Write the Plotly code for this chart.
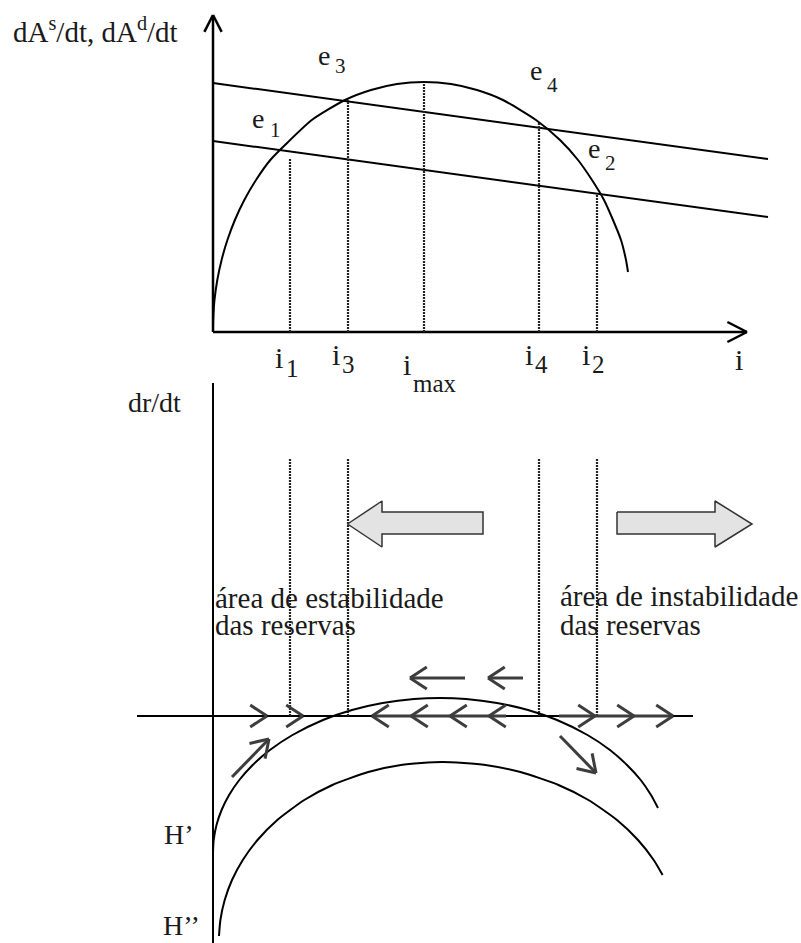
import math
import plotly.graph_objects as go

# ---------------- data (arbitrary units, i-axis origin = 0) ----------------
# Upper panel: supply hump dA^s/dt and the two demand lines dA^d/dt
supply_i = [0.0, 0.02, 0.15, 0.43, 0.86, 1.44, 2.19, 3.13, 4.3, 5.73, 7.2, 9.88, 13.2, 15.8, 18.4,
            21.1, 23.8, 26.4, 29.0, 32.3, 34.7, 36.5, 37.9, 39.1, 40.0, 40.8, 41.3, 41.5]
supply_val = [0.1, 1.2, 3.2, 5.2, 7.2, 9.2, 11.2, 13.2, 15.2, 17.2, 18.7, 21.2, 23.2, 24.2, 24.8,
              25.0, 24.8, 24.2, 23.2, 21.2, 19.2, 17.2, 15.2, 13.2, 11.2, 9.2, 7.2, 6.0]
demand_i = [0.0, 55.5]
demand_high = [24.9, 17.3]
demand_low = [19.1, 11.5]
eq_names = ["1", "3", "4", "2"]
tick_names = ["1", "3", "max", "4", "2"]
tick_i = [7.7, 13.5, 21.1, 32.6, 38.4]
tick_top = [17.4, 23.2, 24.9, 21.0, 13.7]

# Lower panel: dr/dt curves H' and H''
hp_i = [0.0, 0.07, 0.35, 0.86, 1.61, 2.63, 3.97, 5.69, 7.95, 11.0, 13.9, 16.96, 20.1, 22.7,
        25.3, 28.4, 31.5, 34.4, 37.45, 39.7, 41.4, 42.77, 43.8, 44.5]
hp_r = [-13.6, -12.4, -10.9, -9.4, -7.9, -6.4, -4.9, -3.4, -1.9, -0.4, 0.6, 1.3, 1.7, 1.8,
        1.7, 1.3, 0.6, -0.4, -1.9, -3.4, -4.9, -6.4, -7.9, -9.2]
hpp_i = [0.6, 0.74, 1.17, 1.9, 2.98, 4.45, 6.43, 9.13, 11.94, 15.53, 18.8, 22.9,
         27.25, 30.74, 34.55, 37.54, 40.4, 42.5, 44.07, 44.96]
hpp_r = [-22.0, -20.4, -18.4, -16.4, -14.4, -12.4, -10.4, -8.4, -6.9, -5.6, -4.9, -4.6,
         -4.9, -5.6, -6.9, -8.4, -10.4, -12.4, -14.4, -15.9]
lower_guide_i = [7.7, 13.5, 32.6, 38.4]
lower_guide_top = 25.8

# direction-of-motion arrows on the dr/dt = 0 line
right_tips = [5.4, 9.0, 38.2, 42.1, 46.0]
left_tips = [15.9, 19.8, 23.7, 27.6]
left_shaft = [15.9, 29.3]
right_shaft = [34.6, 46.0]
upper_arrows = [(19.7, 25.2), (27.5, 31.0)]   # (tip, tail) at dr/dt = 3.8
upper_arrow_level = 3.8
diag_arrows = [((1.9, -6.1), (5.6, -2.3)), ((34.7, -2.0), (38.3, -5.7))]  # (tail, tip)

# block arrows (stability / instability)
block_left_x = [13.45, 16.9, 16.9, 27.0, 27.0, 16.9, 16.9, 13.45]
block_left_y = [19.2, 21.5, 20.4, 20.4, 18.2, 18.2, 16.9, 19.2]
block_right_x = [40.4, 50.2, 50.2, 53.9, 50.2, 50.2, 40.4, 40.4]
block_right_y = [20.4, 20.4, 21.5, 19.2, 16.9, 18.2, 18.2, 20.4]

# axes extents
top_axis_x_end = 53.4
top_axis_y_end = 31.7
bot_axis_x = [-7.6, 48.0]
bot_axis_y = [33.3, -22.7]

# ---------------- styling ----------------
W, H = 801, 943
FONT = "Liberation Serif, Times New Roman, serif"
TXT = "#1a1a1a"
INK = "#000000"
GRAY = "#3d3d3d"
DOT = "#222222"

fig = go.Figure()


def line(x, y, yaxis="y", color=INK, width=2, dash=None, shape="linear"):
    fig.add_trace(go.Scatter(x=x, y=y, yaxis=yaxis, mode="lines",
                             line=dict(color=color, width=width, dash=dash, shape=shape,
                                       smoothing=0.6 if shape == "spline" else None),
                             hoverinfo="skip", showlegend=False))


def chevron(tx, ty, ang, length=2.0, half=math.radians(33)):
    xs, ys = [], []
    for s in (1, -1):
        a = ang + math.pi + s * half
        xs += [tx + length * math.cos(a), tx, None]
        ys += [ty + length * math.sin(a), ty, None]
    return xs, ys


# ---- upper panel ----
line([0, 0], [0, top_axis_y_end], width=2.5)
line([0, top_axis_x_end], [0, 0], width=2.5)
cx, cy = chevron(0, top_axis_y_end, math.pi / 2, 1.9, math.radians(27))
line(cx, cy, width=2.5)
cx, cy = chevron(top_axis_x_end, 0, 0, 2.2, math.radians(27))
line(cx, cy, width=2.5)

line(demand_i, demand_high, width=2)
line(demand_i, demand_low, width=2)
line(supply_i, supply_val, width=2, shape="spline")

for xi, top in zip(tick_i, tick_top):
    line([xi, xi], [0, top], color=DOT, width=2.2, dash="2px,1px")

# ---- lower panel ----
line([0, 0], bot_axis_y, yaxis="y2", width=2)
line(bot_axis_x, [0, 0], yaxis="y2", width=2)
for xi in lower_guide_i:
    line([xi, xi], [0, lower_guide_top], yaxis="y2", color=DOT, width=2.2, dash="2px,1px")

line(hp_i, hp_r, yaxis="y2", width=2, shape="spline")
line(hpp_i, hpp_r, yaxis="y2", width=2, shape="spline")

# shafts + chevrons
line(left_shaft, [0, 0], yaxis="y2", color=GRAY, width=3)
line(right_shaft, [0, 0], yaxis="y2", color=GRAY, width=3)
ax, ay = [], []
for t in right_tips:
    a, b = chevron(t, 0, 0)
    ax += a; ay += b
for t in left_tips:
    a, b = chevron(t, 0, math.pi)
    ax += a; ay += b
for tip, tail in upper_arrows:
    a, b = chevron(tip, upper_arrow_level, math.pi)
    ax += a + [tip, tail, None]; ay += b + [upper_arrow_level, upper_arrow_level, None]
for (x0, y0), (x1, y1) in diag_arrows:
    ang = math.atan2(y1 - y0, x1 - x0)
    a, b = chevron(x1, y1, ang)
    ax += a + [x0, x1, None]; ay += b + [y0, y1, None]
line(ax, ay, yaxis="y2", color=GRAY, width=3)

for bx, by in ((block_left_x, block_left_y), (block_right_x, block_right_y)):
    fig.add_trace(go.Scatter(x=bx, y=by, yaxis="y2", mode="lines", fill="toself",
                             fillcolor="#e3e3e3", line=dict(color="#333333", width=1.5),
                             hoverinfo="skip", showlegend=False))

# ---------------- text ----------------
anns = []


def ann(text, left, baseline, size):
    anns.append(dict(text=text, x=left / W, y=1 - (baseline + 0.216 * size) / H,
                     xref="paper", yref="paper", xanchor="left", yanchor="bottom",
                     showarrow=False, borderpad=0, borderwidth=0,
                     font=dict(size=size, family=FONT, color=TXT)))


ann("dA<sup>s</sup>/dt, dA<sup>d</sup>/dt", 13, 42, 29)

# equilibrium labels e1, e3, e4, e2
eq_pos = [(252, 128, 270, 137), (318, 65, 335, 73), (530, 80, 547, 92), (588, 158, 605, 170)]
for name, (ex, eb, sx, sb) in zip(eq_names, eq_pos):
    ann("e", ex, eb, 28)
    ann(name, sx, sb, 21)

# i labels under the axis
tick_pos = [(275, 368, 286, 377), (332, 365, 342, 373), (403, 375, 413, 392),
            (525, 365, 535, 373), (582, 365, 592, 373)]
for name, (ix, ib, sx, sb) in zip(tick_names, tick_pos):
    ann("i", ix, ib, 30)
    ann(name, sx, sb, 25)
ann("i", 735, 370, 30)

ann("dr/dt", 128, 412, 28)
ann("área de estabilidade", 215, 608, 29)
ann("das reservas", 215, 635, 29)
ann("área de instabilidade", 560, 606, 29)
ann("das reservas", 560, 635, 29)
ann("H’", 164, 844, 28)
ann("H’’", 163, 935, 28)

split = 1 - 372 / H
fig.update_layout(
    width=W, height=H, margin=dict(l=0, r=0, t=0, b=0),
    paper_bgcolor="white", plot_bgcolor="white",
    font=dict(family=FONT, color=TXT),
    xaxis=dict(range=[-21.3, 58.8], domain=[0, 1], visible=False, fixedrange=True),
    yaxis=dict(range=[-4.0, 33.2], domain=[split, 1], visible=False, fixedrange=True),
    yaxis2=dict(range=[-22.7, 34.4], domain=[0, split], visible=False, fixedrange=True, anchor="x"),
    annotations=anns,
    showlegend=False,
)

fig.write_html("out.html", config={"displayModeBar": False},
               post_script="document.body.style.margin='0';document.body.style.overflow='hidden';")
